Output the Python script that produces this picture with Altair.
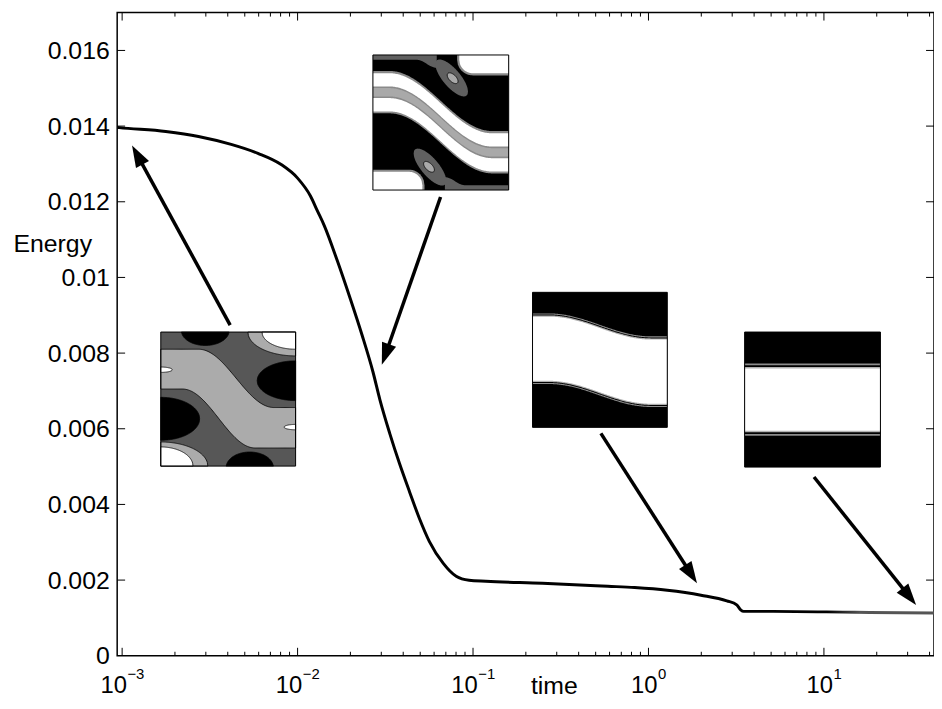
import numpy as np
import pandas as pd
import altair as alt

FONT = "Liberation Sans"

# ---------------- values ----------------
time = [0.00094, 0.000962, 0.001773, 0.002723, 0.004182, 0.005943, 0.008017, 0.0100,
        0.01184, 0.01297, 0.01421, 0.01683, 0.01993, 0.02330, 0.02688, 0.02944, 0.03351,
        0.03819, 0.04349, 0.04954, 0.05642, 0.06768, 0.08017, 0.09493, 0.1184, 0.2486,
        0.5867, 0.8335, 1.280, 1.992, 2.795, 3.184, 3.353, 3.486, 5.151, 15.0, 42.37]
energy = [0.013965, 0.01396, 0.013858, 0.013727, 0.013517, 0.013281, 0.012992, 0.012625,
          0.012152, 0.011759, 0.011365, 0.010446, 0.009449, 0.008478, 0.007507, 0.006772,
          0.005879, 0.005066, 0.004331, 0.003622, 0.003018, 0.002441, 0.0021, 0.001995,
          0.001969, 0.001916, 0.001837, 0.001803, 0.001732, 0.001601, 0.001451, 0.001346,
          0.001215, 0.001173, 0.001173, 0.00115, 0.00113]

y_ticks = [0, 0.002, 0.004, 0.006, 0.008, 0.01, 0.012, 0.014, 0.016]
x_major = [1e-3, 1e-2, 1e-1, 1.0, 10.0]
x_exponent = [-3, -2, -1, 0, 1]

# inset snapshots: time span and energy span of each picture box
inset_t0 = [0.001661, 0.02688, 0.2183, 3.532]
inset_t1 = [0.009743, 0.1597, 1.280, 20.99]
inset_e_top = [0.008556, 0.01588, 0.009606, 0.008556]
inset_e_bot = [0.005013, 0.01231, 0.006037, 0.004987]

# arrows from each inset to the curve
arrow_t_from = [0.004127, 0.0653, 0.5355, 8.780]
arrow_e_from = [0.00874, 0.012126, 0.005879, 0.004724]
arrow_t_to = [0.001139, 0.03021, 1.891, 33.53]
arrow_e_to = [0.01349, 0.00769, 0.001916, 0.001339]

# ---------------- geometry of the plot ----------------
W, H = 823, 648
X_DOM = [9.37e-4, 42.4]
Y_DOM = [0.0, 0.017]
LX0, LX1 = np.log10(X_DOM[0]), np.log10(X_DOM[1])

X_SCALE = alt.Scale(type="log", domain=X_DOM, nice=False)
Y_SCALE = alt.Scale(domain=Y_DOM, nice=False, zero=False)

X_AXIS = alt.Axis(labels=False, ticks=False, domain=False, grid=False, title="time",
                  titleX=440, titleY=38, titleAlign="center", titleBaseline="alphabetic",
                  titleFont=FONT, titleFontSize=25, titleFontWeight="normal",
                  titleColor="black", titlePadding=0)
Y_AXIS = alt.Axis(values=y_ticks, labelExpr="format(datum.value, '~g')",
                  labelFont=FONT, labelFontSize=25, labelColor="black",
                  labelPadding=8, ticks=False, tickSize=0, domain=False, grid=False,
                  title="Energy", titleAngle=0, titleX=-105, titleY=241,
                  titleAlign="left", titleBaseline="alphabetic", titleFont=FONT,
                  titleFontSize=25, titleFontWeight="normal", titleColor="black")


def px(t):
    return (np.log10(t) - LX0) / (LX1 - LX0) * W


def py(e):
    return H * (1 - (e - Y_DOM[0]) / (Y_DOM[1] - Y_DOM[0]))


def t_of(p):
    return 10 ** (LX0 + p / W * (LX1 - LX0))


def e_of(p):
    return Y_DOM[0] + (1 - p / H) * (Y_DOM[1] - Y_DOM[0])


def X(f):
    return alt.X(f, type="quantitative", scale=X_SCALE, axis=X_AXIS)


def Y(f):
    return alt.Y(f, type="quantitative", scale=Y_SCALE, axis=Y_AXIS)


layers = []

# ---------------- insets ----------------
bg_colors = ["#575757", "black", "black", "black"]
box_df = pd.DataFrame({"t0": inset_t0, "t1": inset_t1, "e_top": inset_e_top,
                       "e_bot": inset_e_bot, "fill": bg_colors})
layers.append(alt.Chart(box_df).mark_rect().encode(
    x=X("t0"), x2="t1", y=Y("e_top"), y2="e_bot",
    color=alt.Color("fill:N", scale=None)))


def S(x):
    x = np.clip(x, 0.0, 1.0)
    return 0.5 - 0.5 * np.cos(np.pi * x)


def region_df(k, u, vt, vb):
    u = np.asarray(u, dtype=float)
    vt = np.clip(np.asarray(vt, dtype=float) * np.ones_like(u), 0, 1)
    vb = np.clip(np.asarray(vb, dtype=float) * np.ones_like(u), 0, 1)
    vb = np.maximum(vb, vt)
    lt0, lt1 = np.log10(inset_t0[k]), np.log10(inset_t1[k])
    et, eb = inset_e_top[k], inset_e_bot[k]
    return pd.DataFrame({"t": 10 ** (lt0 + u * (lt1 - lt0)),
                         "e1": et - vt * (et - eb),
                         "e2": et - vb * (et - eb)})


def add(k, u, vt, vb, fill, stroke=None, sw=0.8):
    df = region_df(k, u, vt, vb)
    kw = dict(orient="vertical", color=fill, opacity=1)
    if stroke:
        kw.update(stroke=stroke, strokeWidth=sw)
    else:
        kw.update(strokeWidth=0)
    layers.append(alt.Chart(df).mark_area(**kw).encode(x=X("t"), y=Y("e1"), y2="e2"))


def add_ellipse(k, cx, cy, rx, ry, ang, fill, stroke=None, n=91):
    th = np.radians(ang)
    c, s = np.cos(th), np.sin(th)
    A = c * c / rx ** 2 + s * s / ry ** 2
    B = 2 * c * s * (1 / rx ** 2 - 1 / ry ** 2)
    C = s * s / rx ** 2 + c * c / ry ** 2
    xm = np.sqrt(C / (A * C - B * B / 4))
    u = np.linspace(max(0.0, cx - xm), min(1.0, cx + xm), n)
    d = u - cx
    disc = np.maximum(B * B * d * d - 4 * C * (A * d * d - 1), 0)
    v1 = cy + (-B * d - np.sqrt(disc)) / (2 * C)
    v2 = cy + (-B * d + np.sqrt(disc)) / (2 * C)
    add(k, u, v1, v2, fill, stroke)


def rounded_tr(u0, vbot, r, n=70):
    u = np.linspace(u0, 1, n)
    cxr = u0 + r
    vb = np.where(u < cxr, vbot - r + np.sqrt(np.maximum(r * r - (cxr - u) ** 2, 0)), vbot)
    return u, np.zeros_like(u), vb


U = np.linspace(0, 1, 141)

# inset 1 (t ~ 0.001 .. 0.01)
LG1 = "#ababab"
add(0, U, 0.128 + 0.435 * S((U - 0.28) / 0.56), 0.425 + 0.44 * S((U - 0.16) / 0.54), LG1, "black")
add_ellipse(0, 1.0, 0.0, 0.354, 0.178, 0, LG1, "black")
add_ellipse(0, 0.0, 1.0, 0.349, 0.18, 0, LG1, "black")
for (cx, cy, rx, ry) in [(0.33, -0.01, 0.177, 0.11), (0.66, 1.01, 0.175, 0.115),
                         (1.0, 0.363, 0.285, 0.148), (0.0, 0.647, 0.288, 0.16)]:
    add_ellipse(0, cx, cy, rx, ry, 0, "black", "black")
for (cx, cy, rx, ry) in [(1.0, 0.0, 0.249, 0.128), (0.0, 1.0, 0.239, 0.143),
                         (0.0, 0.281, 0.085, 0.02), (1.0, 0.709, 0.085, 0.02)]:
    add_ellipse(0, cx, cy, rx, ry, 0, "white", "black")

# inset 2 (t ~ 0.03 .. 0.16)
DG2, LG2, RING = "#606060", "#a9a9a9", "#8a8a8a"
us = np.linspace(0, 0.47, 50)
add(1, us, 0.0, 0.035 + 0.06 * S((us - 0.32) / 0.15), DG2)
add(1, 1 - us, 1 - (0.035 + 0.06 * S((us - 0.32) / 0.15)), 1.0, DG2)
add_ellipse(1, 0.58, 0.17, 0.17, 0.065, 50, DG2)
add_ellipse(1, 0.42, 0.83, 0.17, 0.065, 50, DG2)
add_ellipse(1, 0.587, 0.172, 0.05, 0.026, 45, LG2, "black")
add_ellipse(1, 0.413, 0.828, 0.05, 0.026, 45, LG2, "black")
D = 0.445
sb = S((U - 0.12) / 0.76)
add(1, U, 0.118 + D * sb, 0.432 + D * sb, RING)
add(1, U, 0.135 + D * sb, 0.233 + D * sb, "white")
add(1, U, 0.245 + D * sb, 0.307 + D * sb, LG2)
add(1, U, 0.319 + D * sb, 0.418 + D * sb, "white")
for (u0, vbot, r, col) in [(0.62, 0.151, 0.116, RING), (0.636, 0.135, 0.1, "white")]:
    u, vt, vb = rounded_tr(u0, vbot, r)
    add(1, u, vt, vb, col)
    add(1, 1 - u, 1 - vb, 1.0, col)

# inset 3 (t ~ 0.2 .. 1.3)
sb3 = S((U - 0.12) / 0.76)
T3 = 0.18 + 0.17 * sb3
B3 = 0.655 + 0.17 * sb3
for (g, col) in [(0.024, "#8c8c8c"), (0.016, "black"), (0.009, "#b0b0b0"), (0.0, "white")]:
    add(2, U, T3 - g, B3 + g, col)

# inset 4 (t ~ 3.5 .. 21)
for (a, b, col) in [(0.232, 0.768, "#8c8c8c"), (0.245, 0.755, "black"),
                    (0.258, 0.742, "#b0b0b0"), (0.27, 0.73, "white")]:
    add(3, [0.0, 1.0], a, b, col)

layers.append(alt.Chart(box_df).mark_rect(fillOpacity=0, stroke="black", strokeWidth=1).encode(
    x=X("t0"), x2="t1", y=Y("e_top"), y2="e_bot"))

# ---------------- energy curve ----------------
curve_df = pd.DataFrame({"time": time, "energy": energy})
grad = alt.LinearGradient(
    gradient="linear",
    stops=[alt.GradientStop(color="black", offset=0),
           alt.GradientStop(color="black", offset=0.87),
           alt.GradientStop(color="#555555", offset=0.91),
           alt.GradientStop(color="#555555", offset=1)],
    x1=0, x2=1, y1=0, y2=0)
layers.append(alt.Chart(curve_df).mark_line(stroke=grad, strokeWidth=3,
                                            interpolate="monotone").encode(
    x=X("time"), y=Y("energy")))

# ---------------- arrows ----------------
HEAD = 22.0
rows = []
for i in range(4):
    x0, y0 = px(arrow_t_from[i]), py(arrow_e_from[i])
    x1, y1 = px(arrow_t_to[i]), py(arrow_e_to[i])
    dx, dy = x1 - x0, y1 - y0
    L = np.hypot(dx, dy)
    xe, ye = x1 - dx / L * (HEAD - 4), y1 - dy / L * (HEAD - 4)
    ang = float(np.degrees(np.arctan2(dx, -dy)) % 360)
    rows.append(dict(t0=arrow_t_from[i], e0=arrow_e_from[i], t1=t_of(xe), e1=e_of(ye),
                     tip_t=arrow_t_to[i], tip_e=arrow_e_to[i], ang=ang))
arr_df = pd.DataFrame(rows)
layers.append(alt.Chart(arr_df).mark_rule(color="black", strokeWidth=3.5).encode(
    x=X("t0"), y=Y("e0"), x2="t1", y2="e1"))
layers.append(alt.Chart(arr_df).mark_point(
    shape="M0,0L0.68,2L-0.68,2Z", filled=True, size=HEAD * HEAD, color="black",
    opacity=1, strokeWidth=0).encode(
    x=X("tip_t"), y=Y("tip_e"), angle=alt.Angle("ang:Q", scale=None)))

# ---------------- box ticks (inward, MATLAB style) ----------------
x_minor = [m * 10.0 ** d for d in range(-4, 2) for m in range(2, 10)
           if X_DOM[0] <= m * 10.0 ** d <= X_DOM[1]]
xmaj_df = pd.DataFrame({"tv": x_major})
xmin_df = pd.DataFrame({"tv": x_minor})
ytk_df = pd.DataFrame({"ev": y_ticks[1:]})
for df, ln in [(xmaj_df, 8), (xmin_df, 4)]:
    layers.append(alt.Chart(df).mark_rule(color="black", strokeWidth=1).encode(
        x=X("tv"), y=alt.value(H), y2=alt.value(H - ln)))
    layers.append(alt.Chart(df).mark_rule(color="black", strokeWidth=1).encode(
        x=X("tv"), y=alt.value(0), y2=alt.value(ln)))
layers.append(alt.Chart(ytk_df).mark_rule(color="black", strokeWidth=1).encode(
    y=Y("ev"), x=alt.value(0), x2=alt.value(8)))
layers.append(alt.Chart(ytk_df).mark_rule(color="black", strokeWidth=1).encode(
    y=Y("ev"), x=alt.value(W), x2=alt.value(W - 8)))

# ---------------- x tick labels 10^n ----------------
BASE_FS, EXP_FS = 24, 15
lab_df = pd.DataFrame({"tv": x_major, "exp": [str(e).replace("-", "\u2212") for e in x_exponent],
                       "neg": [e < 0 for e in x_exponent]})
w_base = 1.112 * BASE_FS
for neg, w_exp in [(True, 1.14 * EXP_FS), (False, 0.556 * EXP_FS)]:
    sub = lab_df[lab_df["neg"] == neg]
    shift = (w_base - w_exp) / 2
    layers.append(alt.Chart(sub).mark_text(
        text="10", font=FONT, fontSize=BASE_FS, align="right", baseline="alphabetic",
        dx=shift, color="black").encode(x=X("tv"), y=alt.value(686)))
    layers.append(alt.Chart(sub).mark_text(
        font=FONT, fontSize=EXP_FS, align="left", baseline="alphabetic",
        dx=shift + 0.5, color="black").encode(x=X("tv"), y=alt.value(671), text="exp:N"))

chart = alt.layer(*layers).properties(
    width=W, height=H,
    autosize=alt.AutoSizeParams(type="none"),
    padding={"left": 110, "top": 2, "right": 0, "bottom": 50},
    background="white",
).configure_view(stroke="black", strokeWidth=1.5)

chart.save("out.html", embed_options={"renderer": "svg", "actions": False})
